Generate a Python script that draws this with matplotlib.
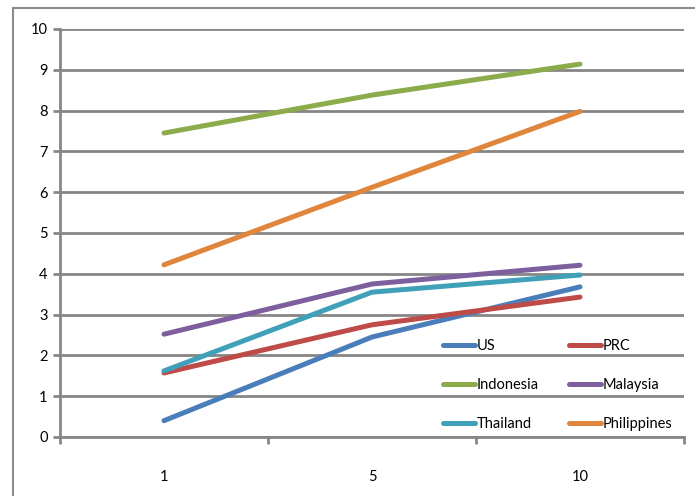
import matplotlib
matplotlib.use("Agg")
import matplotlib.pyplot as plt
from matplotlib.patches import Rectangle

plt.rcParams['font.family'] = ['Lato', 'DejaVu Sans']

categories = ["1", "5", "10"]
series_names = ["US", "PRC", "Indonesia", "Malaysia", "Thailand", "Philippines"]
us = [0.40, 2.45, 3.68]
prc = [1.57, 2.75, 3.43]
indonesia = [7.45, 8.38, 9.14]
malaysia = [2.52, 3.75, 4.21]
thailand = [1.62, 3.55, 3.97]
philippines = [4.22, 6.12, 7.98]
colors = ["#4A7EBB", "#BE4B48", "#8CAC4C", "#7D5F9E", "#3FA0B8", "#E0863C"]
y_ticks = list(range(0, 11))

W, H = 695, 496
fig = plt.figure(figsize=(W / 100, H / 100), dpi=100)

# outer chart border (partly runs off the canvas)
fig.patches.append(Rectangle((13 / W, -0.1), 1.2, 1 - 8 / H + 0.1,
                             transform=fig.transFigure, fill=False,
                             edgecolor="#8C8C8C", linewidth=1.5))

ax = fig.add_axes([60 / W, 1 - 437 / H, 624 / W, 408 / H])
grid_c = "#868686"
x = list(range(len(categories)))
lines = []
for vals, name, c in zip([us, prc, indonesia, malaysia, thailand, philippines],
                         series_names, colors):
    ln, = ax.plot(x, vals, color=c, linewidth=3.6, solid_capstyle="round",
                  solid_joinstyle="round", label=name, zorder=3)
    lines.append(ln)

ax.set_xlim(-0.5, len(categories) - 0.5)
ax.set_ylim(0, 10)
ax.set_yticks(y_ticks)
ax.set_yticklabels([str(t) for t in y_ticks], fontsize=10.5)
ax.set_xticks(x)
ax.set_xticklabels(categories, fontsize=10.5)
ax.set_xticks([i - 0.5 for i in range(len(categories) + 1)], minor=True)
ax.tick_params(axis="x", which="major", length=0, pad=24)
ax.tick_params(axis="x", which="minor", length=5, width=2, color=grid_c)
ax.tick_params(axis="y", length=5, width=2, color=grid_c, pad=4)
ax.yaxis.grid(True, color=grid_c, linewidth=2)
ax.set_axisbelow(True)
for side in ["top", "right"]:
    ax.spines[side].set_visible(False)
for side in ["left", "bottom"]:
    ax.spines[side].set_color(grid_c)
    ax.spines[side].set_linewidth(2)

# legend laid out row by row: US/PRC, Indonesia/Malaysia, Thailand/Philippines
order = [0, 2, 4, 1, 3, 5]
ax.legend([lines[i] for i in order], [series_names[i] for i in order],
          ncol=2, frameon=False, fontsize=10.5, loc="upper left",
          bbox_to_anchor=(443 / W, 1 - 339 / H), bbox_transform=fig.transFigure,
          handlelength=2.2, handletextpad=0.12, labelspacing=1.72,
          columnspacing=2.05, borderpad=0, borderaxespad=0)

fig.savefig("out.png", dpi=100)
